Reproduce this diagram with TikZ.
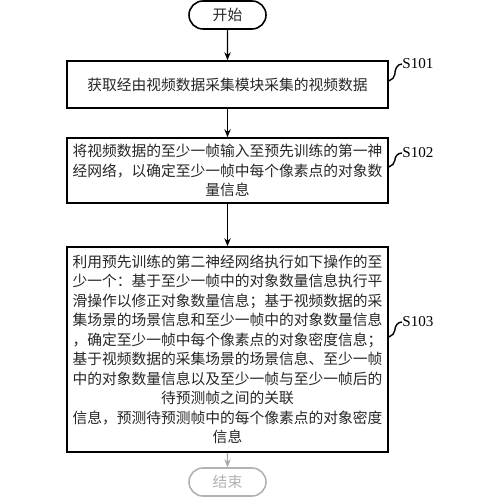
\documentclass[tikz,border=0pt]{standalone}
\usepackage{fontspec}
\newfontfamily\cjk{Noto Sans CJK SC}
\newfontfamily\labfont{Liberation Serif}
\usetikzlibrary{shapes.misc}
\usetikzlibrary{arrows.meta}

\begin{document}
\begin{tikzpicture}[
    box/.style={draw, line width=0.9pt, text width=6.3cm, minimum width=6.42cm, align=center,
        inner sep=0pt, font=\cjk\fontsize{8.4pt}{11.1pt}\selectfont, text=black!85},
    term/.style={draw, rounded rectangle, line width=0.9pt, minimum width=1.54cm,
        minimum height=0.56cm, inner sep=0pt, font=\cjk\fontsize{8.4pt}{10pt}\selectfont, text=black!85},
    steplab/.style={anchor=west, inner sep=0pt, font=\labfont\fontsize{8.6pt}{10pt}\selectfont},
    arr/.style={-{Stealth[length=4.5pt,width=3.6pt]}, line width=0.8pt},
    hook/.style={line width=0.8pt}
]
    \useasboundingbox (0,0) rectangle (10,10);

    % terminals and steps
    \node[term] (start) at (4.55,9.70) {开始};

    \node[box, minimum height=0.94cm] (box1) at (4.55,8.31)
        {获取经由视频数据采集模块采集的视频数据};
    \node[box, minimum height=1.30cm] (box2) at (4.55,6.59)
        {将视频数据的至少一帧输入至预先训练的第一神\\
         经网络，以确定至少一帧中每个像素点的对象数\\
         量信息};
    \node[box, minimum height=4.10cm] (box3) at (4.55,3.01)
        {利用预先训练的第二神经网络执行如下操作的至\\
         少一个：基于至少一帧中的对象数量信息执行平\\
         滑操作以修正对象数量信息；基于视频数据的采\\
         集场景的场景信息和至少一帧中的对象数量信息\\
         ，确定至少一帧中每个像素点的对象密度信息；\\
         基于视频数据的采集场景的场景信息、至少一帧\\
         中的对象数量信息以及至少一帧与至少一帧后的\\
         待预测帧之间的关联\\
         信息，预测待预测帧中的每个像素点的对象密度\\
         信息};

    \node[term, draw=gray!60, text=gray!60] (stop) at (4.55,0.36) {结束};

    % step labels
    \node[steplab] (s101) at (8.04,8.72) {S101};
    \node[steplab] (s102) at (8.04,6.94) {S102};
    \node[steplab] (s103) at (8.04,3.56) {S103};

    % arrows
    \draw[arr] (start) -- (box1);
    \draw[arr] (box1) -- (box2);
    \draw[arr] (box2) -- (box3);
    \draw[arr, gray!70] (box3) -- (stop);

    % label hooks
    \draw[hook] ([yshift=0.07cm]box1.east) to[out=30,in=-90] ++(0.12,0.13) to[out=90,in=180] (s101.west);
    \draw[hook] ([yshift=0.07cm]box2.east) to[out=30,in=-90] ++(0.12,0.13) to[out=90,in=180] (s102.west);
    \draw[hook] ([yshift=0.25cm]box3.east) to[out=30,in=-90] ++(0.12,0.13) to[out=90,in=180] (s103.west);
\end{tikzpicture}
\end{document}
